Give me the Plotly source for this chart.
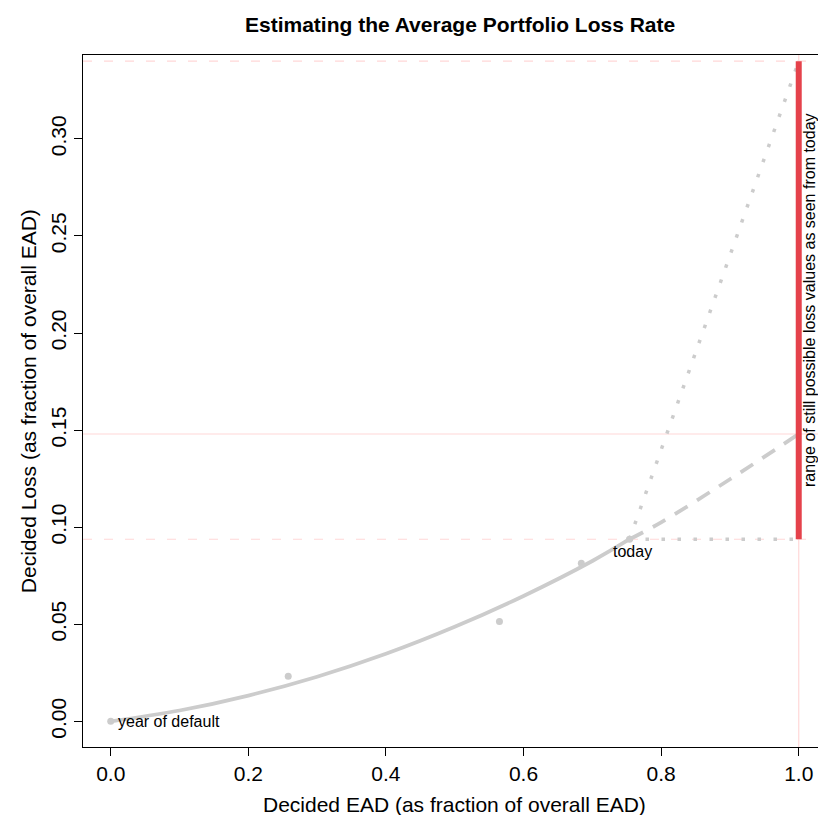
import plotly.graph_objects as go

# ---- data ----
curve_x = [0.0, 0.1, 0.2, 0.3, 0.4, 0.5, 0.6, 0.7, 0.754]
curve_y = [0.0, 0.0056, 0.0133, 0.0230, 0.0348, 0.0487, 0.0646, 0.0826, 0.0938]
ext_x = [0.754, 0.8, 0.9, 1.0]
ext_y = [0.0938, 0.1025, 0.1247, 0.148]
obs_x = [0.0, 0.258, 0.565, 0.684, 0.754]
obs_y = [0.0, 0.0232, 0.0515, 0.0814, 0.0938]
worst_x = [0.754, 1.0]
worst_y = [0.0938, 0.34]
best_x = [0.754, 1.0]
best_y = [0.0938, 0.0938]
loss_low, loss_mid, loss_high = 0.0938, 0.148, 0.34
x_end = 1.0
xticks = [0.0, 0.2, 0.4, 0.6, 0.8, 1.0]
xticklabels = ["0.0", "0.2", "0.4", "0.6", "0.8", "1.0"]
yticks = [0.0, 0.05, 0.10, 0.15, 0.20, 0.25, 0.30]
yticklabels = ["0.00", "0.05", "0.10", "0.15", "0.20", "0.25", "0.30"]

FONT = "Liberation Sans, Arial, sans-serif"
GRAY = "#cccccc"
PINK = "#ffd8d8"
RED = "#e5424b"

XR = [-0.0403, 1.028]
YR = [-0.0132, 0.3432]

# plot area in pixels: left 83, right 818, top 55, bottom 746.7
PL, PR, PT, PB = 83.0, 818.0, 55.0, 746.7
PW, PH = PR - PL, PB - PT

fig = go.Figure()

# pink reference lines
fig.add_trace(go.Scatter(x=XR, y=[loss_high, loss_high], mode="lines",
                         line=dict(color=PINK, width=1.2, dash="9px,12px"), hoverinfo="skip"))
fig.add_trace(go.Scatter(x=XR, y=[loss_mid, loss_mid], mode="lines",
                         line=dict(color=PINK, width=1.2), hoverinfo="skip"))
fig.add_trace(go.Scatter(x=XR, y=[loss_low, loss_low], mode="lines",
                         line=dict(color=PINK, width=1.2, dash="9px,12px"), hoverinfo="skip"))
fig.add_trace(go.Scatter(x=[x_end, x_end], y=YR, mode="lines",
                         line=dict(color=PINK, width=1.2), hoverinfo="skip"))

# observed points
fig.add_trace(go.Scatter(x=obs_x, y=obs_y, mode="markers",
                         marker=dict(color=GRAY, size=7), hoverinfo="skip"))
# fitted curve
fig.add_trace(go.Scatter(x=curve_x, y=curve_y, mode="lines", line_shape="spline",
                         line=dict(color=GRAY, width=3.8), hoverinfo="skip"))
# extrapolation dashed
fig.add_trace(go.Scatter(x=ext_x, y=ext_y, mode="lines", line_shape="spline",
                         line=dict(color=GRAY, width=3.8, dash="15px,11px"), hoverinfo="skip"))
# worst / best case dotted
fig.add_trace(go.Scatter(x=worst_x, y=worst_y, mode="lines",
                         line=dict(color=GRAY, width=3.5, dash="3.5px,12.5px"), hoverinfo="skip"))
fig.add_trace(go.Scatter(x=best_x, y=best_y, mode="lines",
                         line=dict(color=GRAY, width=3.5, dash="3.5px,12.5px"), hoverinfo="skip"))
# range of possible loss values
fig.add_trace(go.Scatter(x=[x_end, x_end], y=[loss_low, loss_high], mode="lines",
                         line=dict(color=RED, width=6), hoverinfo="skip"))

annos = [
    dict(x=0.0, y=0.0, text="year of default", showarrow=False, xanchor="left",
         yanchor="middle", xshift=5, font=dict(size=16, color="black", family=FONT)),
    dict(x=obs_x[-1], y=obs_y[-1], text="today", showarrow=False, xanchor="center",
         yanchor="middle", xshift=3, yshift=-12, font=dict(size=16, color="black", family=FONT)),
    dict(x=x_end, y=(loss_low + loss_high) / 2, text="range of still possible loss values as seen from today",
         showarrow=False, textangle=-90, xanchor="center", yanchor="middle", xshift=10,
         borderpad=0, font=dict(size=16, color="black", family=FONT)),
    dict(x=(454 - PL) / PW, y=(PB - 804) / PH, xref="paper", yref="paper",
         text="Decided EAD (as fraction of overall EAD)", showarrow=False,
         xanchor="center", yanchor="middle", font=dict(size=21, color="black", family=FONT)),
    dict(x=(28 - PL) / PW, y=(PB - 401) / PH, xref="paper", yref="paper",
         text="Decided Loss (as fraction of overall EAD)", showarrow=False, textangle=-90,
         xanchor="center", yanchor="middle", font=dict(size=21, color="black", family=FONT)),
    dict(x=(460 - PL) / PW, y=(PB - 25) / PH, xref="paper", yref="paper",
         text="<b>Estimating the Average Portfolio Loss Rate</b>", showarrow=False,
         xanchor="center", yanchor="middle", font=dict(size=21, color="black", family=FONT)),
]

fig.update_layout(
    width=818, height=815,
    margin=dict(l=PL, r=818 - PR, t=PT, b=815 - PB, autoexpand=False),
    paper_bgcolor="white", plot_bgcolor="white",
    showlegend=False,
    font=dict(family=FONT, size=21, color="black"),
    annotations=annos,
)
fig.update_xaxes(range=XR, showgrid=False, zeroline=False, showline=True, mirror=True,
                 linecolor="black", linewidth=1, ticks="outside", ticklen=8, tickwidth=1,
                 tickcolor="black", tickvals=xticks, ticktext=xticklabels, automargin=False,
                 tickfont=dict(size=21, family=FONT, color="black"))
fig.update_yaxes(range=YR, showgrid=False, zeroline=False, showline=True, mirror=False,
                 linecolor="black", linewidth=1, ticks="outside", ticklen=8, tickwidth=1,
                 tickcolor="black", tickvals=yticks, ticktext=yticklabels, tickangle=-90,
                 automargin=False,
                 tickfont=dict(size=21, family=FONT, color="black"))

fig.write_html("out.html", config={"displayModeBar": False},
               post_script="document.body.style.margin='0';document.body.style.padding='0';")
